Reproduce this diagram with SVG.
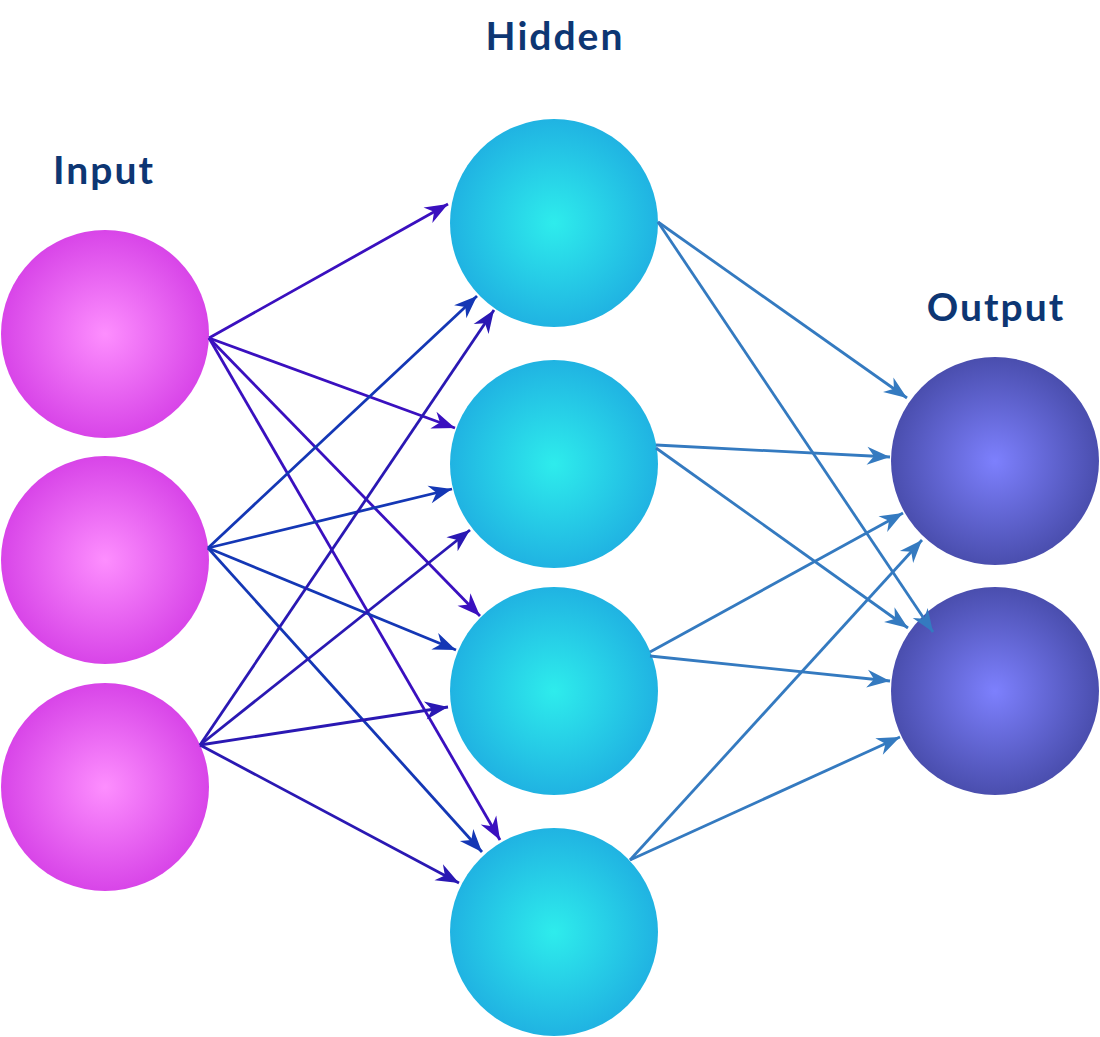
<svg xmlns="http://www.w3.org/2000/svg" width="1100" height="1037" viewBox="0 0 1100 1037">
<style>
.lbl{font-family:Lato,"Open Sans","DejaVu Sans",sans-serif;font-weight:bold;font-size:39px;letter-spacing:2px;fill:#0d3673;text-anchor:middle}
.c1{stroke:#3a10bf;stroke-width:2.8;fill:none;marker-end:url(#a1)}
.c2{stroke:#1437b5;stroke-width:2.8;fill:none;marker-end:url(#a2)}
.c3{stroke:#2a18b3;stroke-width:2.8;fill:none;marker-end:url(#a3)}
.c4{stroke:#347ac0;stroke-width:2.8;fill:none;marker-end:url(#a4)}
</style>
<defs>
<radialGradient id="gIn" cx="0.5" cy="0.5" r="0.5"><stop offset="0" stop-color="#fd8efe"/><stop offset="1" stop-color="#d845e8"/></radialGradient>
<radialGradient id="gHid" cx="0.5" cy="0.5" r="0.5"><stop offset="0" stop-color="#2eecec"/><stop offset="1" stop-color="#20b3e2"/></radialGradient>
<radialGradient id="gOut" cx="0.5" cy="0.5" r="0.5"><stop offset="0" stop-color="#7d80fd"/><stop offset="1" stop-color="#4a4eae"/></radialGradient>
<marker id="a1" viewBox="-24 -11 26 22" refX="0" refY="0" markerWidth="26" markerHeight="22" markerUnits="userSpaceOnUse" orient="auto"><path d="M0,0 L-23,-9 L-16,0 L-23,9 Z" fill="#3a10bf"/></marker>
<marker id="a2" viewBox="-24 -11 26 22" refX="0" refY="0" markerWidth="26" markerHeight="22" markerUnits="userSpaceOnUse" orient="auto"><path d="M0,0 L-23,-9 L-16,0 L-23,9 Z" fill="#1437b5"/></marker>
<marker id="a3" viewBox="-24 -11 26 22" refX="0" refY="0" markerWidth="26" markerHeight="22" markerUnits="userSpaceOnUse" orient="auto"><path d="M0,0 L-23,-9 L-16,0 L-23,9 Z" fill="#2a18b3"/></marker>
<marker id="a4" viewBox="-24 -11 26 22" refX="0" refY="0" markerWidth="26" markerHeight="22" markerUnits="userSpaceOnUse" orient="auto"><path d="M0,0 L-23,-9 L-16,0 L-23,9 Z" fill="#347ac0"/></marker>
</defs>
<rect width="1100" height="1037" fill="#ffffff"/>
<text class="lbl" x="555" y="50">Hidden</text>
<text class="lbl" x="104" y="184">Input</text>
<text class="lbl" x="996" y="321">Output</text>
<g id="input1"><circle cx="105" cy="334" r="104" fill="url(#gIn)"/></g>
<g id="input2"><circle cx="105" cy="560" r="104" fill="url(#gIn)"/></g>
<g id="input3"><circle cx="105" cy="787" r="104" fill="url(#gIn)"/></g>
<g id="hidden1"><circle cx="554" cy="223" r="104" fill="url(#gHid)"/></g>
<g id="hidden2"><circle cx="554" cy="464" r="104" fill="url(#gHid)"/></g>
<g id="hidden3"><circle cx="554" cy="691" r="104" fill="url(#gHid)"/></g>
<g id="hidden4"><circle cx="554" cy="932" r="104" fill="url(#gHid)"/></g>
<g id="output1"><circle cx="995" cy="461" r="104" fill="url(#gOut)"/></g>
<g id="output2"><circle cx="995" cy="691" r="104" fill="url(#gOut)"/></g>
<g id="connectors">
<line class="c1" x1="209" y1="338" x2="448" y2="204"/>
<line class="c1" x1="209" y1="338" x2="455" y2="428"/>
<line class="c1" x1="209" y1="338" x2="480" y2="616"/>
<line class="c1" x1="209" y1="338" x2="500" y2="840"/>
<line class="c2" x1="208" y1="548" x2="477" y2="296"/>
<line class="c2" x1="208" y1="548" x2="452" y2="489"/>
<line class="c2" x1="208" y1="548" x2="456" y2="650"/>
<line class="c2" x1="208" y1="548" x2="482" y2="852"/>
<line class="c3" x1="200" y1="745" x2="494" y2="310"/>
<line class="c3" x1="200" y1="745" x2="470" y2="530"/>
<line class="c3" x1="200" y1="745" x2="448" y2="707"/>
<line class="c3" x1="200" y1="745" x2="459" y2="883"/>
<line class="c4" x1="658" y1="222" x2="907" y2="398"/>
<line class="c4" x1="658" y1="222" x2="933" y2="632"/>
<line class="c4" x1="656" y1="445" x2="890" y2="457"/>
<line class="c4" x1="656" y1="448" x2="908" y2="628"/>
<line class="c4" x1="650" y1="652" x2="903" y2="513"/>
<line class="c4" x1="650" y1="656" x2="890" y2="681"/>
<line class="c4" x1="630" y1="860" x2="922" y2="540"/>
<line class="c4" x1="630" y1="860" x2="900" y2="737"/>
</g>
</svg>
